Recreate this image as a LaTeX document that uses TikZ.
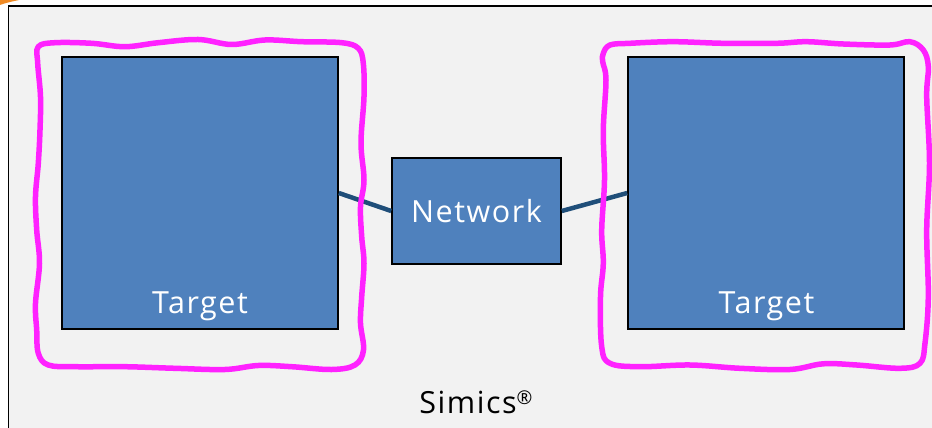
\documentclass[tikz,border=0pt]{standalone}
\usepackage{fontspec}
\setmainfont{Open Sans}[LetterSpace=5]
\begin{document}
\begin{tikzpicture}[x=1pt,y=-1pt,
  targetbox/.style={draw=black, line width=1.6pt, fill=boxblue, rectangle, inner sep=0pt},
  link/.style={draw=linkblue, line width=4.5pt},
  scribble/.style={draw=hilite, line width=5.5pt, line join=round},
  lbl/.style={font=\fontsize{30.5}{34}\selectfont, anchor=base, inner sep=0pt}]
\definecolor{boxblue}{HTML}{4F81BD}
\definecolor{linkblue}{HTML}{1F4E79}
\definecolor{hilite}{HTML}{FF22FF}
\definecolor{panel}{HTML}{F2F2F2}
\definecolor{accent}{HTML}{F08A24}
\useasboundingbox (0,0) rectangle (932,428);
\clip (0,0) rectangle (932,428);
\fill[white] (0,0) rectangle (932,428);
% simulator panel
\draw[fill=panel, line width=1.8pt] (8.5,5.8) rectangle (945,445);
\fill[accent] (0,0) -- (19,0) .. controls (12,1.5) and (5,3) .. (0,5) -- cycle;
% targets and network
\node[targetbox, minimum width=276pt, minimum height=272pt] (tl) at (200,193) {};
\node[targetbox, minimum width=276pt, minimum height=272pt] (tr) at (766,193) {};
\node[targetbox, minimum width=169pt, minimum height=106pt, text=white,
      font=\fontsize{30.5}{34}\selectfont] (net) at (476.5,211) {Network};
\node[lbl, text=white] (tlname) at (200,313) {Target};
\node[lbl, text=white] (trname) at (766.5,313) {Target};
\node[lbl] (sim) at (476,413) {Simics\raisebox{0.55ex}{\fontsize{19}{22}\selectfont ®}};
\draw[link] (tl.east) -- (net.west);
\draw[link] (net.east) -- (tr.west);
% hand-drawn highlight loops
\draw[scribble] plot[smooth cycle, tension=0.6] coordinates {
 (38.3,46.7) (55,42.7) (91.7,43.3) (125,46.7) (158.3,42.7) (198.3,39.5)
 (231.7,44.5) (265,40) (301.7,41.7) (341.7,42.7) (358.3,48.3) (363.3,63.3)
 (364,96.7) (361,143) (364,180) (360.5,206.7) (361.7,236.7) (364,263.3)
 (361.7,296.7) (360.5,323.3) (363.5,350) (355,365) (331.7,369.5) (291.7,366.7)
 (258.3,365.5) (225,369.5) (175,368.3) (125,366.7) (75,366.7) (48.3,365)
 (38.3,353.3) (36.7,330) (35.5,303.3) (39.5,263.3) (36.7,230) (35.5,196.7)
 (38.3,163.3) (40,130) (40.5,96.7) (37.7,63.3)};
\draw[scribble] plot[smooth cycle, tension=0.6] coordinates {
 (603.3,53.3) (610,45) (630,43.3) (673.3,41.7) (723.3,43.3) (776.7,43.3)
 (806.7,41.7) (843.3,44) (890,45) (910,41.7) (923.3,50) (928.3,66.7)
 (926.7,96.7) (929.5,163.3) (926.7,230) (928.3,296.7) (925,343.3) (920,363.3)
 (900,368.3) (856.7,365) (823.3,363.8) (790,369.5) (740,368.3) (690,365)
 (640,366.7) (610,363.3) (601.7,346.7) (600.5,296.7) (603.3,263.3)
 (601.7,230) (604.5,180) (603.3,130) (606,80) (602.7,61.7)};
\end{tikzpicture}
\end{document}
